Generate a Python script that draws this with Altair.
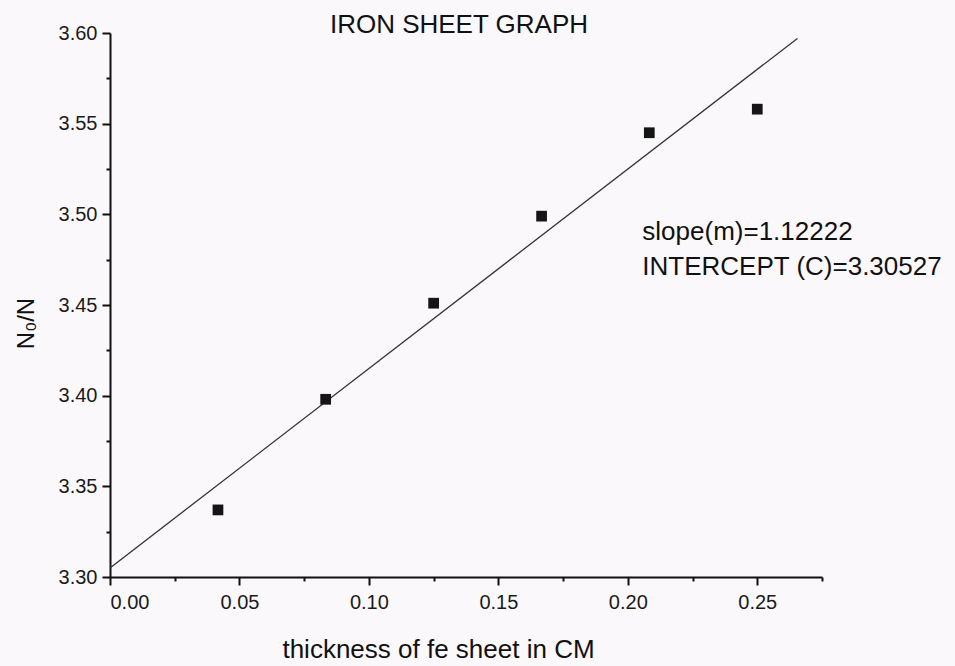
import altair as alt
import pandas as pd

# Data
thickness = [0.0417, 0.0833, 0.1250, 0.1667, 0.2083, 0.2500]
ratio = [3.337, 3.398, 3.451, 3.499, 3.545, 3.558]
fit_x = [0.0, 0.2655]
fit_y = [3.305, 3.597]
x_ticks = [0.0, 0.025, 0.05, 0.075, 0.10, 0.125, 0.15, 0.175, 0.20, 0.225, 0.25, 0.275]
y_ticks = [3.30, 3.325, 3.35, 3.375, 3.40, 3.425, 3.45, 3.475, 3.50, 3.525, 3.55, 3.575, 3.60]
notes = ["slope(m)=1.12222", "INTERCEPT (C)=3.30527"]
note_x = [0.2056, 0.2056]
note_y = [3.4859, 3.4666]
title_text = ["IRON SHEET GRAPH"]

FONT = "Liberation Sans"
pts = pd.DataFrame({"x": thickness, "y": ratio})
fit = pd.DataFrame({"x": fit_x, "y": fit_y})
ann = pd.DataFrame({"x": note_x, "y": note_y, "t": notes})
ttl = pd.DataFrame({"t": title_text})

major = "abs(datum.value*20 - round(datum.value*20)) < 0.001"
label_expr = f"{major} ? format(datum.value, '.2f') : ''"

xscale = alt.Scale(domain=[0, 0.275], nice=False, zero=False)
yscale = alt.Scale(domain=[3.30, 3.60], nice=False, zero=False)

xaxis = alt.Axis(
    values=x_ticks, labelExpr=label_expr, grid=False,
    title="thickness of fe sheet in CM", titleFont=FONT, titleFontSize=26,
    titleFontWeight="normal", titleColor="#111",
    titleX=328, titleY=80, titleBaseline="alphabetic", titleAlign="center",
    labelFont=FONT, labelFontSize=20, labelColor="#1a1a1a", labelPadding=7,
    tickSize={"condition": {"test": major, "value": 8}, "value": 4},
    tickColor="#111", tickWidth=2, domainColor="#111", domainWidth=2,
)
yaxis = alt.Axis(
    values=y_ticks, labelExpr=label_expr, grid=False,
    title="N₀/N", titleFont=FONT, titleFontSize=24, titleFontWeight="normal",
    titleColor="#111", titleX=-84, titleY=290, titleAngle=-90,
    titleAlign="center", titleBaseline="middle",
    labelFont=FONT, labelFontSize=20, labelColor="#1a1a1a", labelPadding=5,
    tickSize={"condition": {"test": major, "value": 8}, "value": 4},
    tickColor="#111", tickWidth=2, domainColor="#111", domainWidth=2,
)

line = alt.Chart(fit).mark_line(color="#333", strokeWidth=1.3).encode(
    x=alt.X("x:Q", scale=xscale, axis=xaxis),
    y=alt.Y("y:Q", scale=yscale, axis=yaxis),
)
points = alt.Chart(pts).mark_point(shape="square", filled=True, size=115,
                                   color="#151515", opacity=1).encode(
    x=alt.X("x:Q", scale=xscale),
    y=alt.Y("y:Q", scale=yscale),
)
text = alt.Chart(ann).mark_text(align="left", baseline="alphabetic", font=FONT,
                                fontSize=26, color="#111").encode(
    x=alt.X("x:Q", scale=xscale),
    y=alt.Y("y:Q", scale=yscale),
    text="t:N",
)
title = alt.Chart(ttl).mark_text(align="center", baseline="alphabetic", font=FONT,
                                 fontSize=26, color="#111").encode(
    x=alt.value(349),
    y=alt.value(0),
    text="t:N",
)

chart = alt.layer(line, points, text, title).properties(
    width=712, height=544,
    autosize=alt.AutoSizeParams(type="none"),
    padding={"left": 110, "top": 33, "right": 133, "bottom": 89},
    background="#faf8fa",
).configure_view(stroke=None).configure_axis(
    labelFont=FONT, labelFontSize=20, labelColor="#1a1a1a"
)

chart.save("out.html", embed_options={"renderer": "svg", "actions": False})
